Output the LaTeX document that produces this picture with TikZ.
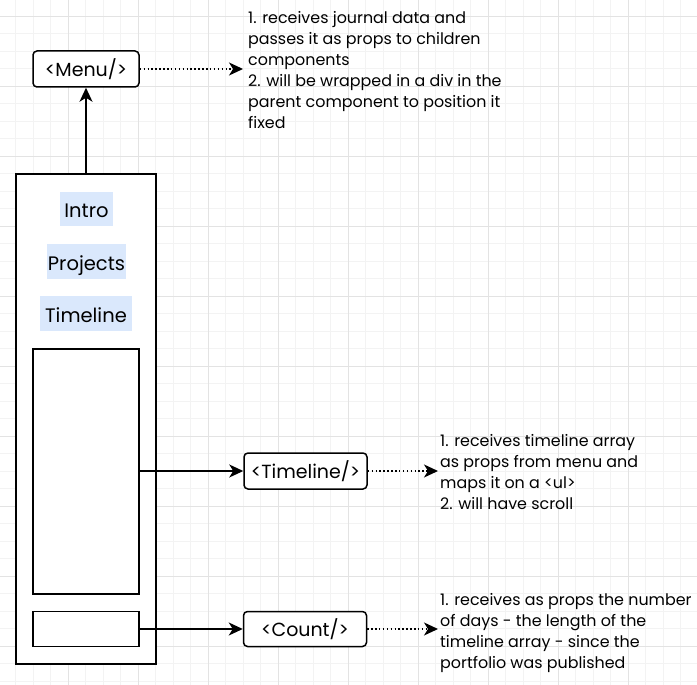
\documentclass[tikz,border=0pt]{standalone}
\usepackage{fontspec}
\setmainfont{Poppins}
\usetikzlibrary{arrows.meta}
\definecolor{gridminor}{HTML}{F3F3F3}
\definecolor{gridmajor}{HTML}{E3E3E3}
\definecolor{hl}{HTML}{DAE8FC}
\tikzset{
  cbox/.style={draw=black, line width=1.5pt, rounded corners=4pt, fill=white, inner sep=0pt, font=\fontsize{19}{22}\selectfont},
  plainbox/.style={draw=black, line width=1.6pt, fill=white, inner sep=0pt},
  hlbox/.style={fill=hl, inner sep=0pt, text height=17pt, text depth=0pt, font=\fontsize{19.5}{22}\selectfont},
  note/.style={align=left, inner sep=0pt, anchor=north west, font=\fontsize{15.9}{21}\selectfont},
  arr/.style={line width=1.5pt, -{Stealth[length=14pt,width=13pt,inset=4pt]}},
  dotarr/.style={line width=1.5pt, dash pattern=on 1.5pt off 2.4pt, -{Stealth[length=14pt,width=13pt,inset=4pt]}},
}
\begin{document}
\begin{tikzpicture}[x=1pt,y=-1pt]
\useasboundingbox (0,0) rectangle (697,685);
\fill[white] (0,0) rectangle (697,685);
% grid
\foreach \i in {0,...,40} {
  \pgfmathsetmacro\xx{-2+17.5*\i}
  \draw[gridminor, line width=0.8pt] (\xx,0) -- (\xx,685);
}
\foreach \i in {0,...,40} {
  \pgfmathsetmacro\yy{-1.5+17.5*\i}
  \draw[gridminor, line width=0.8pt] (0,\yy) -- (697,\yy);
}
\foreach \i in {0,...,10} {
  \pgfmathsetmacro\xx{-2+70*\i}
  \draw[gridmajor, line width=0.9pt] (\xx,0) -- (\xx,685);
}
\foreach \i in {0,...,10} {
  \pgfmathsetmacro\yy{16+70*\i}
  \draw[gridmajor, line width=0.9pt] (0,\yy) -- (697,\yy);
}
% main container
\node[plainbox, minimum width=140pt, minimum height=490pt] (main) at (86,419) {};
\node[hlbox, minimum width=53pt, minimum height=34pt] (intro) at (86.5,209) {Intro};
\node[hlbox, minimum width=79pt, minimum height=35pt] (projects) at (86.5,261.5) {Projects};
\node[hlbox, minimum width=92pt, minimum height=35pt] (timelinetab) at (86,313.5) {Timeline};
\node[plainbox, minimum width=106pt, minimum height=245pt] (inner1) at (86,471.5) {};
\node[plainbox, minimum width=106pt, minimum height=35pt] (inner2) at (86,629) {};
% components
\node[cbox, minimum width=106pt, minimum height=36pt] (menu) at (86,69) {<Menu/>};
\node[cbox, minimum width=123pt, minimum height=36pt] (tl) at (305.5,471) {<Timeline/>};
\node[cbox, minimum width=123pt, minimum height=35pt] (count) at (305,629) {<Count/>};
% notes
\node[note] (menunote) at (248,11) {1. receives journal data and\\passes it as props to children\\components\\2. will be wrapped in a div in the\\parent component to position it\\fixed};
\node[note] (tlnote) at (440,434) {1. receives timeline array\\as props from menu and\\maps it on a <ul>\\2. will have scroll};
\node[note] (countnote) at (440,593) {1. receives as props the number\\of days - the length of the\\timeline array - since the\\portfolio was published};
% connectors
\draw[arr] (main.north) -- (menu.south);
\draw[arr] (inner1.east |- tl.west) -- (tl.west);
\draw[arr] (inner2.east) -- (count.west);
\draw[dotarr] (menu.east) -- ([xshift=-5pt]menu.east -| menunote.west);
\draw[dotarr] (tl.east) -- ([xshift=-2pt]tl.east -| tlnote.west);
\draw[dotarr] (count.east) -- ([xshift=-2pt]count.east -| countnote.west);
\end{tikzpicture}
\end{document}
